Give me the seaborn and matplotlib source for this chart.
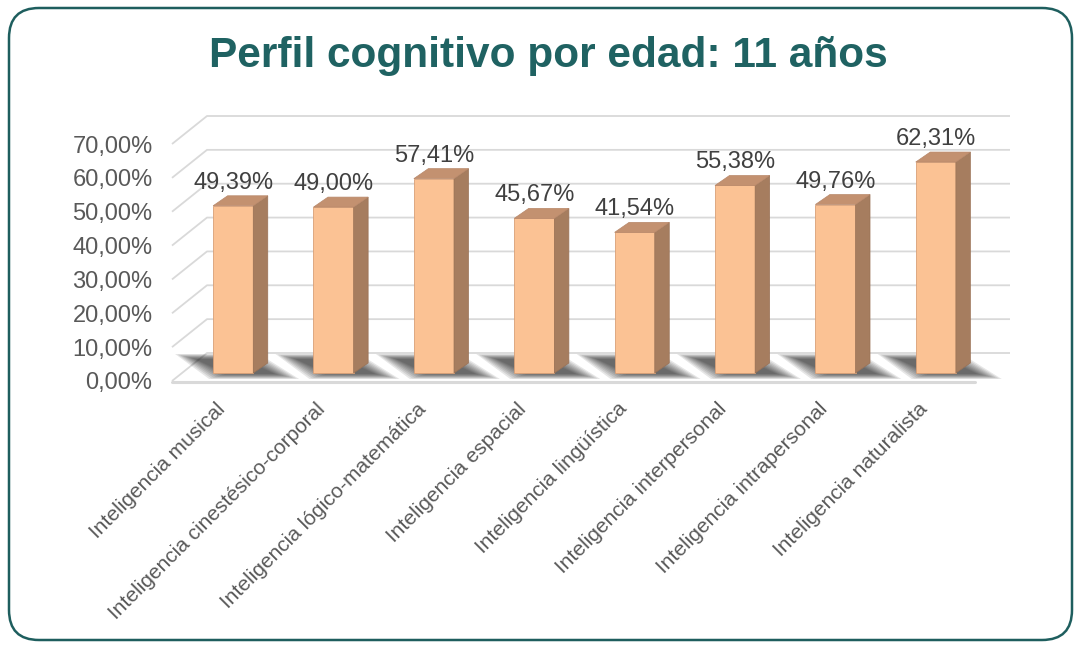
import numpy as np
import pandas as pd
import matplotlib
matplotlib.use("Agg")
import matplotlib.pyplot as plt
import seaborn as sns
from matplotlib.patches import Polygon, FancyBboxPatch
from matplotlib.transforms import ScaledTranslation, IdentityTransform

# ---------------- data ----------------
categories = [
    "Inteligencia musical",
    "Inteligencia cinestésico-corporal",
    "Inteligencia lógico-matemática",
    "Inteligencia espacial",
    "Inteligencia lingüística",
    "Inteligencia interpersonal",
    "Inteligencia intrapersonal",
    "Inteligencia naturalista",
]
values = [49.39, 49.00, 57.41, 45.67, 41.54, 55.38, 49.76, 62.31]
value_labels = ["49,39%", "49,00%", "57,41%", "45,67%", "41,54%", "55,38%", "49,76%", "62,31%"]
yticks = [0, 10, 20, 30, 40, 50, 60, 70]
ytick_labels = ["0,00%", "10,00%", "20,00%", "30,00%", "40,00%", "50,00%", "60,00%", "70,00%"]
title = "Perfil cognitivo por edad: 11 años"

# ---------------- style ----------------
FRONT = "#FBC294"
SIDE = "#A67D5F"
TOP = "#C39170"
EDGE = "#D9A077"
GRID = "#D9D9D9"
TEXT = "#595959"
LABEL = "#404040"
TEAL = "#1F6262"

sns.set_theme(style="white")
plt.rcParams["font.family"] = ["Liberation Sans", "DejaVu Sans"]

W, H = 1080, 646
fig = plt.figure(figsize=(W / 100, H / 100), dpi=100)
fig.patch.set_facecolor("white")

L, R, T, B = 172, 975, 144, 381
ax = fig.add_axes([L / W, 1 - B / H, (R - L) / W, (B - T) / H])
ax.patch.set_visible(False)

df = pd.DataFrame({"cat": categories, "val": values})
sns.barplot(data=df, x="cat", y="val", ax=ax, width=0.4, color=FRONT,
            saturation=1, edgecolor=EDGE, linewidth=0.6, zorder=3)
bars = list(ax.patches)

ax.set_xlim(-0.5, 7.5)
ax.set_ylim(0, 70)
for s in ax.spines.values():
    s.set_visible(False)
ax.set_xlabel("")
ax.set_ylabel("")
ax.grid(False)
ax.set_yticks(yticks)
ax.set_yticklabels(ytick_labels, fontsize=17, color=TEXT)
ax.tick_params(axis="y", length=0, pad=14)
ax.set_xticks(range(len(categories)))
ax.set_xticklabels(categories, rotation=45, ha="right", va="center",
                   rotation_mode="anchor", fontsize=15, color=TEXT)
ax.tick_params(axis="x", length=0, pad=18)

inv = ax.transData.inverted()


def pt(x, y, ox=0.0, oy=0.0):
    d = ax.transData.transform((x, y))
    return inv.transform((d[0] + ox, d[1] + oy))


DX, DY = 35, 28      # depth of back wall (px)
BOX, BOY = 11, 8     # bar offset into depth (px)
DDX, DDY = 14.5, 10  # bar depth (px)

# back-wall gridlines and left wall diagonals
x_lo, x_hi = ax.get_xlim()
for v in yticks:
    p0 = pt(x_lo, v)
    p1 = pt(x_lo, v, DX, DY)
    p2 = pt(x_hi, v, DX, DY)
    ax.plot([p0[0], p1[0], p2[0]], [p0[1], p1[1], p2[1]], color=GRID, lw=1.3,
            clip_on=False, zorder=0.5, solid_capstyle="butt")
# floor front edge
f0, f1 = pt(x_lo, 0, 0, -1), pt(x_hi, 0, 0, -1)
ax.plot([f0[0], f1[0]], [f0[1], f1[1]], color=GRID, lw=2.2, clip_on=False, zorder=0.6)

# bars: shift into depth, add shadows, side and top faces, labels
off = ScaledTranslation(BOX / 100, BOY / 100, fig.dpi_scale_trans)
# shadow quads relative to the bar's front-bottom-left corner (px):
# front-left, front-right, back-right, back-left
outer = np.array([(-4, -6), (86, -6), (46, 19), (-38, 19)], float)
inner = np.array([(14, -1), (62, -1), (30, 14), (-18, 14)], float)
for p, lbl in zip(bars, value_labels):
    x0 = p.get_x()
    x1 = x0 + p.get_width()
    h = p.get_height()
    p.set_transform(ax.transData + off)
    p.set_clip_on(False)

    # floor shadow (layered to mimic blur)
    base = ax.transData.transform((x0, 0)) + np.array([BOX, BOY])
    for t in np.linspace(0, 1, 9):
        q = outer * (1 - t) + inner * t + base
        verts = inv.transform(q)
        ax.add_patch(Polygon(verts, closed=True, facecolor="#1E1E1E", edgecolor="none",
                             alpha=0.11, zorder=1, clip_on=False))

    side = [pt(x1, 0, BOX, BOY), pt(x1, 0, BOX + DDX, BOY + DDY),
            pt(x1, h, BOX + DDX, BOY + DDY), pt(x1, h, BOX, BOY)]
    top = [pt(x0, h, BOX, BOY), pt(x1, h, BOX, BOY),
           pt(x1, h, BOX + DDX, BOY + DDY), pt(x0, h, BOX + DDX, BOY + DDY)]
    ax.add_patch(Polygon(side, closed=True, facecolor=SIDE, edgecolor="#9A7256",
                         lw=0.5, zorder=3, clip_on=False))
    ax.add_patch(Polygon(top, closed=True, facecolor=TOP, edgecolor="#B8886A",
                         lw=0.5, zorder=3, clip_on=False))

    ax.annotate(lbl, xy=((x0 + x1) / 2, h), xytext=(BOX * 0.72, (BOY + 23) * 0.72),
                textcoords="offset points", ha="center", va="center",
                fontsize=17, color=LABEL, zorder=5, annotation_clip=False)

# title
fig.text(548 / W, 1 - 56 / H, title, ha="center", va="center", fontsize=30.5,
         fontweight="bold", color=TEAL)

# rounded border
border = FancyBboxPatch((9, 6), 1063, 632, boxstyle="round,pad=0,rounding_size=30",
                        transform=IdentityTransform(), facecolor="none",
                        edgecolor="#1E5E5E", lw=1.8)
fig.add_artist(border)

fig.savefig("out.png", dpi=100)
